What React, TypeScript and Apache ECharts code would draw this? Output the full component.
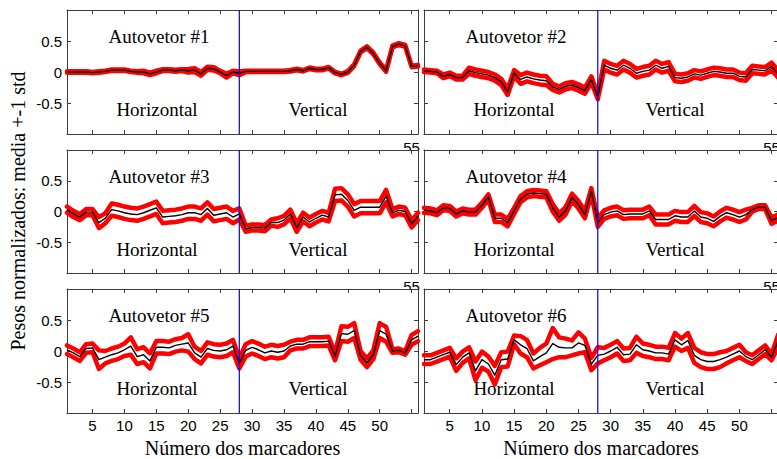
import { useEffect, useRef } from "react";
import * as echarts from "echarts";

// Marker indices along the horizontal axis (1..56)
const MARKERS: number[] = Array.from({ length: 56 }, (_, i) => i + 1);
// Marker where the horizontal block ends and the vertical block starts
const SPLIT_MARKER = 28;

const X_TICKS = [5, 10, 15, 20, 25, 30, 35, 40, 45, 50, 55];
const X_LABELS = [5, 10, 15, 20, 25, 30, 35, 40, 45, 50];
const Y_TICKS = [-0.5, 0, 0.5];

const PANEL_TITLES = [
  "Autovetor #1",
  "Autovetor #2",
  "Autovetor #3",
  "Autovetor #4",
  "Autovetor #5",
  "Autovetor #6",
];

// Mean normalized weight per marker, one array per eigenvector
const MEAN_1 = [
  0.0, 0.0, 0.0, 0.0, -0.01, 0.0, 0.01, 0.03, 0.03, 0.03,
  0.01, 0.0, 0.0, -0.03, 0.0, 0.03, 0.03, 0.02, 0.03, 0.02,
  0.03, -0.03, 0.06, 0.05, 0.0, -0.06, 0.0, -0.02, 0.01, 0.01,
  0.01, 0.01, 0.01, 0.01, 0.01, 0.02, 0.04, 0.02, 0.06, 0.04,
  0.04, 0.07, -0.01, -0.04, 0.0, 0.11, 0.33, 0.4, 0.3, 0.14,
  0.02, 0.41, 0.45, 0.42, 0.09, 0.1,
];
const STD_1 = [
  0.012, 0.012, 0.012, 0.012, 0.012, 0.012, 0.012, 0.012, 0.012, 0.012,
  0.012, 0.012, 0.02, 0.02, 0.02, 0.015, 0.015, 0.015, 0.015, 0.03,
  0.03, 0.03, 0.025, 0.025, 0.02, 0.03, 0.02, 0.03, 0.012, 0.012,
  0.012, 0.012, 0.012, 0.012, 0.012, 0.012, 0.012, 0.012, 0.012, 0.012,
  0.012, 0.012, 0.012, 0.012, 0.015, 0.015, 0.015, 0.015, 0.015, 0.015,
  0.015, 0.015, 0.015, 0.015, 0.012, 0.012,
];

const MEAN_2 = [
  0.02, 0.01, 0.0, -0.07, -0.04, -0.09, -0.09, 0.02, -0.01, -0.03,
  -0.05, -0.09, -0.16, -0.32, -0.02, -0.12, -0.08, -0.11, -0.13, -0.14,
  -0.24, -0.28, -0.23, -0.21, -0.25, -0.3, -0.12, -0.4, 0.11, 0.06,
  0.03, 0.11, 0.06, -0.02, 0.01, 0.03, 0.11, 0.06, 0.09, -0.09,
  -0.1, -0.08, -0.03, -0.05, -0.02, 0.01, 0.0, -0.02, -0.02, -0.07,
  -0.08, 0.04, 0.03, 0.02, 0.09, -0.03,
];
const STD_2 = [
  0.02, 0.02, 0.02, 0.03, 0.03, 0.03, 0.03, 0.05, 0.05, 0.05,
  0.05, 0.05, 0.05, 0.05, 0.05, 0.07, 0.07, 0.07, 0.07, 0.07,
  0.05, 0.05, 0.05, 0.05, 0.05, 0.05, 0.05, 0.04, 0.07, 0.07,
  0.07, 0.07, 0.07, 0.07, 0.07, 0.07, 0.07, 0.07, 0.07, 0.06,
  0.06, 0.06, 0.06, 0.06, 0.06, 0.06, 0.06, 0.06, 0.06, 0.06,
  0.06, 0.06, 0.06, 0.06, 0.06, 0.06,
];

const MEAN_3 = [
  0.03, -0.04, -0.09, -0.01, -0.01, -0.18, -0.11, 0.03, 0.01, -0.02,
  -0.04, -0.05, -0.02, 0.02, 0.06, -0.09, -0.08, -0.07, -0.05, -0.02,
  -0.02, -0.05, 0.05, -0.06, -0.04, -0.02, -0.09, -0.04, -0.28, -0.26,
  -0.26, -0.27, -0.18, -0.18, -0.14, -0.04, -0.26, -0.09, -0.17, -0.11,
  -0.06, -0.09, 0.27, 0.28, 0.18, 0.02, 0.07, 0.07, 0.07, 0.07,
  0.25, -0.02, 0.02, 0.0, -0.2, -0.08,
];
const STD_3 = [
  0.05, 0.05, 0.05, 0.05, 0.05, 0.09, 0.08, 0.1, 0.1, 0.1,
  0.1, 0.1, 0.1, 0.1, 0.1, 0.1, 0.1, 0.1, 0.1, 0.1,
  0.1, 0.1, 0.1, 0.1, 0.1, 0.1, 0.1, 0.09, 0.05, 0.05,
  0.05, 0.05, 0.05, 0.07, 0.07, 0.07, 0.07, 0.07, 0.07, 0.07,
  0.07, 0.07, 0.1, 0.1, 0.1, 0.1, 0.1, 0.1, 0.1, 0.1,
  0.1, 0.06, 0.06, 0.06, 0.06, 0.06,
];

const MEAN_4 = [
  0.02, 0.01, -0.02, 0.06, 0.05, -0.04, 0.01, -0.01, -0.01, 0.1,
  0.24, -0.11, -0.11, -0.18, 0.01, 0.2, 0.28, 0.3, 0.29, 0.28,
  0.06, -0.09, 0.01, 0.23, 0.11, -0.05, 0.33, -0.18, -0.05, -0.01,
  0.01, -0.05, -0.04, -0.04, -0.04, 0.01, -0.13, -0.13, -0.13, -0.07,
  -0.09, -0.09, 0.01, -0.09, -0.11, -0.16, -0.08, -0.02, -0.05, -0.09,
  -0.05, 0.03, 0.07, 0.07, -0.15, -0.1,
];
const STD_4 = [
  0.04, 0.04, 0.04, 0.04, 0.04, 0.04, 0.04, 0.04, 0.04, 0.04,
  0.04, 0.06, 0.06, 0.06, 0.05, 0.05, 0.05, 0.05, 0.05, 0.05,
  0.06, 0.06, 0.06, 0.06, 0.06, 0.06, 0.05, 0.07, 0.07, 0.07,
  0.07, 0.07, 0.07, 0.07, 0.07, 0.07, 0.08, 0.08, 0.08, 0.08,
  0.08, 0.08, 0.08, 0.08, 0.08, 0.08, 0.08, 0.08, 0.08, 0.08,
  0.08, 0.03, 0.03, 0.03, 0.05, 0.05,
];

const MEAN_5 = [
  0.02, -0.03, -0.09, 0.04, 0.05, -0.14, -0.1, -0.06, -0.03, 0.02,
  0.08, -0.09, -0.06, -0.16, 0.06, 0.06, 0.05, 0.09, 0.11, 0.13,
  -0.03, -0.1, 0.04, 0.01, 0.0, 0.02, 0.08, -0.2, 0.01, 0.06,
  0.02, -0.03, 0.0, -0.02, 0.0, 0.08, 0.11, 0.11, 0.15, 0.15,
  0.15, 0.16, -0.09, 0.28, 0.27, 0.33, -0.07, -0.19, -0.06, 0.33,
  0.27, 0.0, 0.01, -0.03, 0.18, 0.24,
];
const STD_5 = [
  0.07, 0.07, 0.07, 0.07, 0.07, 0.15, 0.1, 0.1, 0.1, 0.1,
  0.14, 0.12, 0.12, 0.12, 0.1, 0.1, 0.1, 0.1, 0.1, 0.14,
  0.1, 0.1, 0.1, 0.1, 0.1, 0.1, 0.1, 0.08, 0.1, 0.1,
  0.1, 0.1, 0.1, 0.1, 0.1, 0.07, 0.07, 0.07, 0.07, 0.07,
  0.07, 0.07, 0.06, 0.12, 0.12, 0.12, 0.07, 0.07, 0.07, 0.12,
  0.12, 0.03, 0.03, 0.03, 0.08, 0.08,
];

const MEAN_6 = [
  -0.14, -0.14, -0.1, -0.06, -0.02, -0.22, -0.1, -0.03, -0.32, -0.14,
  -0.21, -0.39, -0.14, -0.13, 0.18, 0.1, 0.04, -0.16, -0.09, -0.03,
  0.12, 0.06, 0.05, 0.05, 0.13, 0.09, -0.21, -0.07, -0.05, 0.0,
  0.06, -0.06, -0.05, 0.1, 0.02, 0.0, -0.03, -0.03, -0.05, 0.18,
  0.1, 0.17, -0.07, -0.14, -0.17, -0.17, -0.14, -0.1, -0.05, 0.0,
  -0.09, -0.14, -0.06, 0.02, -0.1, 0.16,
];
const STD_6 = [
  0.07, 0.07, 0.07, 0.07, 0.07, 0.1, 0.09, 0.09, 0.15, 0.13,
  0.12, 0.15, 0.12, 0.12, 0.07, 0.14, 0.14, 0.12, 0.14, 0.15,
  0.25, 0.16, 0.15, 0.12, 0.17, 0.11, 0.1, 0.13, 0.1, 0.1,
  0.1, 0.1, 0.1, 0.13, 0.1, 0.1, 0.1, 0.1, 0.1, 0.11,
  0.1, 0.12, 0.12, 0.12, 0.12, 0.12, 0.12, 0.1, 0.1, 0.1,
  0.07, 0.07, 0.07, 0.07, 0.05, 0.1,
];

const MEANS = [MEAN_1, MEAN_2, MEAN_3, MEAN_4, MEAN_5, MEAN_6];
const STDS = [STD_1, STD_2, STD_3, STD_4, STD_5, STD_6];

const X_TITLE = "Número dos marcadores";
const Y_TITLE = "Pesos normalizados: media +-1 std";

// Panel layout (3 rows x 2 columns)
const COL_LEFT = [67, 424];
const COL_WIDTH = [351, 354];
const ROW_TOP = [10, 150, 289];
const ROW_HEIGHT = [124, 123, 124];

const SERIF = '"Liberation Serif", "Times New Roman", serif';
const SANS = '"Liberation Sans", Arial, sans-serif';
const FRAME = "#3c3c3c";
const SPLIT_COLOR = "#0000ff";

function label(
  text: string,
  x: number,
  y: number,
  opts: { size: number; family: string; vAlign?: string; rotation?: number; z?: number }
) {
  return {
    type: "text",
    x,
    y,
    rotation: opts.rotation ?? 0,
    z: opts.z ?? 7,
    style: {
      text,
      fill: "#000",
      fontFamily: opts.family,
      fontSize: opts.size,
      align: "center",
      verticalAlign: opts.vAlign ?? "middle",
    },
  };
}

function buildOption(): echarts.EChartsOption {
  const grid: any[] = [];
  const xAxis: any[] = [];
  const yAxis: any[] = [];
  const series: any[] = [];
  const graphic: any[] = [];

  const axisLine = { show: true, onZero: false, lineStyle: { color: FRAME, width: 1 } };
  const tick = (vals: number[]) => ({
    show: true,
    inside: true,
    length: 4,
    customValues: vals,
    lineStyle: { color: FRAME, width: 1 },
  });

  MEANS.forEach((mean, i) => {
    const std = STDS[i];
    const r = Math.floor(i / 2);
    const c = i % 2;
    const left = COL_LEFT[c];
    const top = ROW_TOP[r];
    const width = COL_WIDTH[c];
    const height = ROW_HEIGHT[r];

    grid.push({ left, top, width, height, outerBoundsMode: "none", containLabel: false });

    xAxis.push({
      gridIndex: i,
      type: "value",
      position: "bottom",
      min: 1,
      max: 56,
      z: 3,
      axisLine,
      axisTick: tick(X_TICKS),
      axisLabel: {
        show: r === 2,
        customValues: X_LABELS,
        margin: 5,
        fontFamily: SANS,
        fontSize: 15,
        color: "#000",
      },
      splitLine: { show: false },
    });
    xAxis.push({
      gridIndex: i,
      type: "value",
      position: "top",
      min: 1,
      max: 56,
      z: 3,
      axisLine,
      axisTick: tick(X_TICKS),
      axisLabel: { show: false },
      splitLine: { show: false },
    });
    yAxis.push({
      gridIndex: i,
      type: "value",
      position: "left",
      min: -1,
      max: 1,
      interval: 0.5,
      z: 3,
      axisLine,
      axisTick: tick(Y_TICKS),
      axisLabel: {
        show: c === 0,
        customValues: Y_TICKS,
        margin: 5,
        fontFamily: SANS,
        fontSize: 15,
        color: "#000",
      },
      splitLine: { show: false },
    });
    yAxis.push({
      gridIndex: i,
      type: "value",
      position: "right",
      min: -1,
      max: 1,
      interval: 0.5,
      z: 3,
      axisLine,
      axisTick: tick(Y_TICKS),
      axisLabel: { show: false },
      splitLine: { show: false },
    });

    // Divider between the horizontal and vertical marker blocks
    series.push({
      type: "line",
      xAxisIndex: 2 * i,
      yAxisIndex: 2 * i,
      symbol: "none",
      silent: true,
      z: 6,
      data: [
        [SPLIT_MARKER, -1],
        [SPLIT_MARKER, 1],
      ],
      lineStyle: { color: SPLIT_COLOR, width: 1.2 },
    });

    const upper = MARKERS.map((m, k) => [m, mean[k] + std[k]]);
    const lower = MARKERS.map((m, k) => [m, mean[k] - std[k]]);
    const avg = MARKERS.map((m, k) => [m, mean[k]]);
    const band = {
      type: "line",
      xAxisIndex: 2 * i,
      yAxisIndex: 2 * i,
      symbol: "none",
      showSymbol: false,
      silent: true,
      z: 4,
      lineStyle: { color: "#ff0000", width: 4.5, cap: "round", join: "round" },
    };
    series.push({ ...band, data: upper });
    series.push({ ...band, data: lower });
    series.push({
      type: "line",
      xAxisIndex: 2 * i,
      yAxisIndex: 2 * i,
      symbol: "none",
      showSymbol: false,
      silent: true,
      z: 5,
      data: avg,
      lineStyle: { color: "#000", width: 1.4, join: "round" },
    });

    // Panel annotations
    graphic.push(label(PANEL_TITLES[i], left + 92, top + 26, { size: 19, family: SERIF }));
    graphic.push(label("Horizontal", left + 90, top + 99, { size: 19, family: SERIF }));
    graphic.push(label("Vertical", left + 251, top + 99, { size: 19, family: SERIF }));

    // The "55" tick label of the upper rows peeks out above the panel below
    if (r < 2) {
      const x55 = left + ((55 - 1) / (56 - 1)) * width;
      const bottom = top + height;
      graphic.push(label("55", x55, bottom + 5.5, { size: 15, family: SANS, vAlign: "top", z: 0 }));
      graphic.push({
        type: "rect",
        z: 1,
        shape: { x: x55 - 12, y: ROW_TOP[r + 1], width: 24, height: 14 },
        style: { fill: "#fff" },
      });
    }
  });

  // Horizontal axis titles under each column
  [0, 1].forEach((c) => {
    graphic.push(label(X_TITLE, COL_LEFT[c] + COL_WIDTH[c] / 2, 448, { size: 20, family: SERIF }));
  });

  // Shared vertical axis title
  graphic.push(label(Y_TITLE, 18, 211, { size: 20, family: SERIF, rotation: Math.PI / 2 }));

  return {
    animation: false,
    backgroundColor: "#fff",
    grid,
    xAxis,
    yAxis,
    series,
    graphic,
  } as echarts.EChartsOption;
}

export default function App() {
  const ref = useRef<HTMLDivElement>(null);

  useEffect(() => {
    if (!ref.current) return;
    const chart = echarts.init(ref.current, undefined, { renderer: "svg" });
    chart.setOption(buildOption());
    return () => chart.dispose();
  }, []);

  return (
    <div
      ref={ref}
      style={{ position: "fixed", left: 0, top: 0, width: 777, height: 459, background: "#fff" }}
    />
  );
}
